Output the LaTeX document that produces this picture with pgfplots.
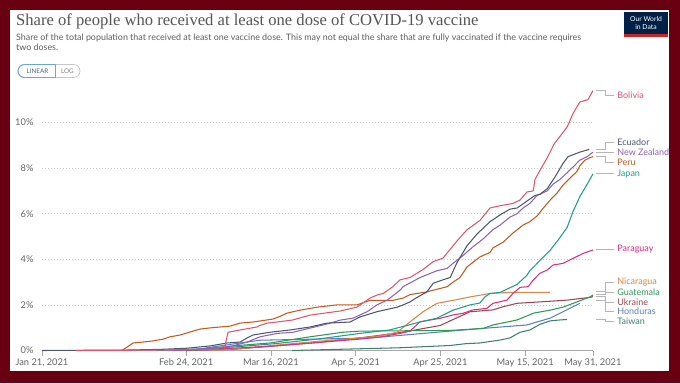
\documentclass[border=0pt]{standalone}
\usepackage{pgfplots}
\pgfplotsset{compat=1.18}
\usepackage{fontspec}
\setsansfont{Lato}
\newfontfamily\titlefont{Liberation Serif}
\definecolor{maroon}{HTML}{690012}
\definecolor{titlegray}{HTML}{555555}
\definecolor{subgray}{HTML}{5E5E5E}
\definecolor{labgray}{HTML}{666666}
\definecolor{gridgray}{HTML}{C8C8C8}
\definecolor{axisgray}{HTML}{A8A8A8}
\definecolor{conngray}{HTML}{B5B5B5}
\definecolor{togblue}{HTML}{6AA6E0}
\definecolor{togtext}{HTML}{4A6788}
\definecolor{owidnavy}{HTML}{002147}
\definecolor{owidred}{HTML}{CE261E}
\definecolor{cBol}{HTML}{E2566B}
\definecolor{cEcu}{HTML}{4B5870}
\definecolor{cNZ}{HTML}{8E62BE}
\definecolor{cPer}{HTML}{C8581E}
\definecolor{cJap}{HTML}{1F9E8E}
\definecolor{cPar}{HTML}{DC2F7C}
\definecolor{cNic}{HTML}{DA8646}
\definecolor{cGua}{HTML}{2A9C55}
\definecolor{cUkr}{HTML}{A0464F}
\definecolor{cHon}{HTML}{5B7FC2}
\definecolor{cTai}{HTML}{40806F}
\begin{document}
\begin{tikzpicture}[x=1pt,y=1pt]
\fill[maroon] (0,0) rectangle (680,383);
\fill[white] (10,12) rectangle (669,373);
% title and subtitle
\node[anchor=base west, inner sep=0, text=titlegray, font=\titlefont\fontsize{16.6}{20}\selectfont] at (16,357) {Share of people who received at least one dose of COVID-19 vaccine};
\node[anchor=base west, inner sep=0, text=subgray, font=\sffamily\fontsize{8.9}{10.5}\selectfont] at (16,342) {Share of the total population that received at least one vaccine dose. This may not equal the share that are fully vaccinated if the vaccine requires};
\node[anchor=base west, inner sep=0, text=subgray, font=\sffamily\fontsize{8.9}{10.5}\selectfont] at (16,332) {two doses.};
% toggle
\draw[gray!45, line width=0.7, rounded corners=6.5] (18,305.5) rectangle (80,318.5);
\draw[togblue, line width=0.9] (55.5,318.5) -- (24.5,318.5) arc[start angle=90, end angle=270, radius=6.5] -- (55.5,305.5) -- cycle;
\node[text=togtext, font=\sffamily\fontsize{6.3}{7}\selectfont, inner sep=0] at (37.5,312) {LINEAR};
\node[text=gray, font=\sffamily\fontsize{6.3}{7}\selectfont, inner sep=0] at (67.5,312) {LOG};
% logo
\fill[owidnavy] (624,346) rectangle (668,371);
\fill[owidred] (624,346) rectangle (668,348.5);
\node[text=white, font=\sffamily\fontsize{6.8}{7}\selectfont, inner sep=0] at (646,364) {Our World};
\node[text=white, font=\sffamily\fontsize{6.8}{7}\selectfont, inner sep=0] at (646,355.5) {in Data};
\begin{axis}[
  at={(42pt,32.5pt)}, anchor=south west,
  scale only axis, width=551pt, height=264.5pt,
  xmin=0, xmax=130, ymin=0, ymax=11.6,
  axis line style={draw=none},
  clip=false,
  ytick={0,2,4,6,8,10},
  yticklabels={0\%,2\%,4\%,6\%,8\%,10\%},
  xtick={0,34,54,74,94,114,130},
  xticklabels={{Jan 21, 2021},{Feb 24, 2021},{Mar 16, 2021},{Apr 5, 2021},{Apr 25, 2021},{May 15, 2021},{May 31, 2021}},
  ymajorgrids,
  grid style={dash pattern=on 1pt off 2pt, draw=gridgray, line width=0.6pt},
  ytick style={draw=none},
  xtick style={draw=axisgray, line width=0.6pt},
  tick align=outside,
  major tick length=5pt,
  xtick pos=left, ytick pos=left,
  ticklabel style={font=\sffamily\fontsize{9.3}{10}\selectfont, text=labgray},
  every axis plot/.append style={line width=1.05pt, line join=round},
]
\draw[axisgray, line width=0.7pt] (axis cs:0,0) -- (axis cs:130,0);
% Taiwan
\addplot[cTai, mark=none] coordinates {(59,0) (84.5,0.12) (96.3,0.22) (100,0.3) (103.3,0.33) (108.1,0.46) (110.4,0.55) (112.8,0.8) (115.1,0.9) (117.5,1.15) (119.9,1.3) (122.2,1.34) (123.9,1.36)};
% Honduras
\addplot[cHon, mark=none] coordinates {(35,0) (40,0.15) (51.4,0.45) (77.4,0.55) (96.3,0.85) (104.1,0.97) (114.4,1.12) (119.9,1.42) (126.9,2.07)};
% Ukraine
\addplot[cUkr, mark=none] coordinates {(34,0) (45,0.05) (55,0.2) (65,0.35) (75,0.55) (85,0.8) (94,1.1) (96.3,1.3) (101,1.7) (106.4,1.78) (108.8,1.92) (112.1,2.07) (118.2,2.14) (123.9,2.21) (129.3,2.33) (130,2.36)};
% Guatemala
\addplot[cGua, mark=none] coordinates {(35,0) (45,0.2) (53.8,0.33) (63.2,0.6) (71,0.8) (75,0.85) (96.3,0.88) (104.1,0.97) (106.4,1.12) (112.1,1.34) (116,1.64) (119.9,1.77) (122.9,1.9) (126.2,2.13) (129.3,2.35) (130,2.43)};
% Nicaragua
\addplot[cNic, mark=none] coordinates {(40,0) (48,0.1) (56,0.25) (65,0.4) (75,0.55) (80,0.65) (83.8,0.8) (86.8,1.25) (89.9,1.7) (93.2,2.07) (97,2.2) (101,2.35) (105.7,2.5) (110.4,2.55) (119.9,2.55)};
% Paraguay
\addplot[cPar, mark=none] coordinates {(31,0) (45,0.1) (55,0.2) (65,0.35) (75,0.5) (80,0.6) (84.5,0.75) (86.8,0.85) (89.2,1.26) (93.9,1.41) (97,1.56) (99.3,1.63) (101.7,1.78) (105,1.85) (106.4,2.07) (108.1,2.14) (109.7,2.21) (111.1,2.5) (112.8,2.77) (114.7,2.8) (115.9,3.09) (117.5,3.39) (119.2,3.53) (120.6,3.75) (122.9,3.82) (125.3,4.04) (127.7,4.26) (130,4.41)};
% Japan
\addplot[cJap, mark=none] coordinates {(27,0) (35,0.05) (45,0.15) (55,0.3) (65,0.5) (75,0.75) (82,0.9) (89.2,1.25) (93.2,1.42) (97,1.77) (101,2.0) (103.3,2.08) (104.5,2.35) (105.7,2.5) (108.1,2.55) (112.1,2.9) (114.4,3.3) (115.1,3.5) (117.5,3.95) (119.9,4.4) (121.8,4.85) (123.9,5.4) (125.3,6.1) (126.9,6.75) (128.8,7.35) (130,7.75)};
% Peru
\addplot[cPer, mark=none] coordinates {(18.9,0) (21.5,0.33) (23.8,0.37) (26.2,0.42) (28.6,0.5) (30.2,0.6) (32.6,0.68) (34.9,0.81) (37.3,0.94) (39.6,0.99) (42,1.03) (44.4,1.07) (46.7,1.2) (49.8,1.25) (53.1,1.34) (54.5,1.38) (56.2,1.5) (57.8,1.64) (60.9,1.77) (64.9,1.9) (69.6,2.0) (74.3,2.0) (77.4,2.2) (82.8,2.2) (85.2,2.3) (86.8,2.45) (90.8,2.57) (95.6,2.8) (97,3.0) (98.6,3.2) (100.3,3.67) (103.3,4.1) (105.7,4.3) (106.4,4.5) (108.8,4.75) (111.1,5.15) (113.5,5.5) (115.1,5.65) (116.8,5.9) (118.2,6.23) (119.9,6.6) (121.5,6.9) (122.9,7.25) (124.5,7.55) (126.2,7.85) (126.9,8.1) (128.1,8.35) (129.2,8.45) (130,8.5)};
% New Zealand
\addplot[cNZ, mark=none] coordinates {(30,0) (40,0.1) (45,0.2) (48.4,0.37) (51.4,0.6) (55.5,0.75) (59.2,0.8) (63.2,0.98) (67.2,1.16) (70.3,1.33) (73.4,1.42) (76.7,1.7) (79,2.0) (81.4,2.2) (84.5,2.65) (85.2,2.8) (89.2,3.2) (93.2,3.5) (95.6,3.6) (97,3.83) (98.6,4.05) (101.7,4.55) (104.1,4.9) (106.4,5.3) (108.1,5.5) (110.4,5.85) (112.1,6.0) (113.5,6.25) (115.1,6.45) (116.8,6.8) (119.2,7.0) (120.6,7.3) (122.2,7.5) (123.9,7.8) (125.3,8.05) (126.9,8.35) (128.6,8.5) (130,8.7)};
% Ecuador
\addplot[cEcu, mark=none] coordinates {(0,0) (20,0.02) (28,0.05) (34.2,0.1) (39.6,0.2) (43.7,0.33) (46.7,0.37) (48.4,0.55) (49.8,0.68) (53.8,0.8) (58.5,0.9) (63.2,1.03) (67.2,1.2) (72.7,1.25) (75,1.47) (79,1.7) (81.4,1.8) (83.8,1.9) (85.2,2.0) (86.8,2.13) (88.5,2.33) (90.8,2.57) (92.3,2.95) (94.6,3.1) (96.3,3.2) (97.9,3.85) (100.3,4.6) (102.6,5.1) (105.7,5.65) (108.1,5.95) (110.4,6.2) (112.1,6.25) (114.4,6.55) (116.3,6.8) (117.5,6.85) (119.2,7.1) (121,7.6) (122.9,8.2) (124.1,8.5) (126.9,8.7) (129.1,8.82)};
% Bolivia
\addplot[cBol, mark=none] coordinates {(8,0) (30,0.02) (43,0.05) (43.9,0.8) (46.7,0.9) (50.7,1.03) (51.4,1.1) (53.1,1.2) (55.5,1.25) (59.2,1.34) (63.2,1.55) (66.3,1.63) (70.3,1.73) (74.3,1.9) (77.4,2.3) (79.3,2.45) (80.5,2.5) (82.8,2.8) (84.5,3.1) (86.8,3.2) (89.9,3.55) (92.3,3.9) (94.6,4.05) (97.9,4.8) (100.3,5.3) (103.3,5.7) (105.7,6.25) (108.1,6.35) (111.1,6.45) (112.8,6.6) (114.4,6.95) (115.9,7.0) (116.3,7.5) (117.5,7.9) (119.2,8.45) (120.8,9.05) (123.9,9.8) (125.3,10.4) (126.9,10.9) (128.8,11.0) (130,11.4)};
% connectors and labels
\tikzset{conn/.style={draw=conngray, line width=0.6pt}, lab/.style={anchor=west, inner sep=0, font=\sffamily\fontsize{9}{10}\selectfont}}
\draw[conn] (axis cs:130.7,11.4) -| (axis cs:132.9,11.2) -- (axis cs:135,11.2);
\node[lab, text=cBol] at (axis cs:135.7,11.2) {Bolivia};
\draw[conn] (axis cs:130.7,8.82) -| (axis cs:132.9,9.14) -- (axis cs:135,9.14);
\node[lab, text=cEcu] at (axis cs:135.7,9.14) {Ecuador};
\draw[conn] (axis cs:130.7,8.7) -- (axis cs:135,8.7);
\node[lab, text=cNZ] at (axis cs:135.7,8.71) {New Zealand};
\draw[conn] (axis cs:130.7,8.5) -| (axis cs:132.9,8.27) -- (axis cs:135,8.27);
\node[lab, text=cPer] at (axis cs:135.7,8.27) {Peru};
\draw[conn] (axis cs:130.7,7.75) -- (axis cs:135,7.75);
\node[lab, text=cJap] at (axis cs:135.7,7.75) {Japan};
\draw[conn] (axis cs:130.7,4.42) -- (axis cs:135,4.42);
\node[lab, text=cPar] at (axis cs:135.7,4.45) {Paraguay};
\draw[conn] (axis cs:130.7,2.6) -| (axis cs:132.9,3.0) -- (axis cs:135,3.0);
\node[lab, text=cNic] at (axis cs:135.7,3.0) {Nicaragua};
\draw[conn] (axis cs:130.7,2.45) -| (axis cs:132.9,2.57) -- (axis cs:135,2.57);
\node[lab, text=cGua] at (axis cs:135.7,2.57) {Guatemala};
\draw[conn] (axis cs:130.7,2.36) -| (axis cs:132.9,2.13) -- (axis cs:135,2.13);
\node[lab, text=cUkr] at (axis cs:135.7,2.13) {Ukraine};
\draw[conn] (axis cs:130.7,2.2) -| (axis cs:132.9,1.73) -- (axis cs:135,1.73);
\node[lab, text=cHon] at (axis cs:135.7,1.73) {Honduras};
\draw[conn] (axis cs:130.7,1.36) -| (axis cs:132.9,1.29) -- (axis cs:135,1.29);
\node[lab, text=cTai] at (axis cs:135.7,1.29) {Taiwan};
\end{axis}
\end{tikzpicture}
\end{document}
